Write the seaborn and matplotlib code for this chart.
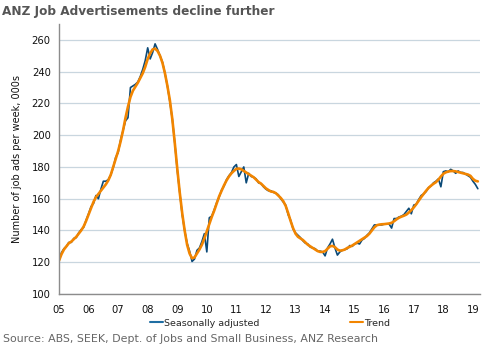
import numpy as np
import pandas as pd
import matplotlib
matplotlib.use("Agg")
import matplotlib.pyplot as plt
import seaborn as sns

# monthly, Jan 2005 - Mar 2019, '000s of job ads per week
seasonally_adjusted = [
    121, 126, 128.5, 130, 132.5, 132.5, 135, 135.5, 138.5, 140.5, 142, 146.5,  # 2005
    150.5, 155, 157, 162, 160, 166, 171, 171, 172, 175, 179.5, 186,  # 2006
    189, 197, 203, 209, 211, 230, 231, 232, 233.5, 237, 241.5, 247,  # 2007
    255, 248, 252, 257.5, 254, 250, 246, 239, 231, 221, 210, 195,  # 2008
    178, 164, 150, 140, 132, 127, 120.5, 122, 127.5, 129, 133, 138,  # 2009
    126.5, 148, 149, 153, 157.5, 161, 165.5, 168, 172, 174.5, 176.5, 180,  # 2010
    181.5, 174, 177, 180, 170, 176, 174, 173.5, 172.5, 170, 169.5, 167.5,  # 2011
    166, 165, 165, 164, 163.5, 162.5, 160, 158, 156, 150, 146.5, 141,  # 2012
    138.5, 137, 135.5, 133.5, 132, 131.5, 129.5, 129, 128.5, 127, 127, 126.5,  # 2013
    124, 129, 131.5, 134.5, 129, 124.5, 126.5, 127.5, 128, 128.5, 130.5, 130,  # 2014
    131.5, 132, 131.5, 134, 135, 137, 138.5, 141, 143.5, 143.5, 143.5, 143.5,  # 2015
    144, 144, 144, 141.5, 147.5, 147.5, 148.5, 149, 150, 152, 154, 150.5,  # 2016
    156, 156.5, 159.5, 162, 163, 164.5, 167, 168, 170, 171, 172.5, 167.5,  # 2017
    177, 177.5, 177, 178.5, 177.5, 176, 177.5, 176.5, 176.5, 175.5, 174.5, 173.5,  # 2018
    171, 169, 166.3,  # 2019
]
trend = [
    121, 125, 128, 130, 132, 133, 134.5, 136, 138, 140, 142.5, 146,  # 2005
    150, 154, 158, 161, 163, 165, 167, 169, 171.5, 175, 180, 185,  # 2006
    190, 196, 203, 211, 218, 224, 228, 230.5, 233, 236, 239, 243,  # 2007
    248, 251.5, 254, 254.5, 253, 250, 245.5, 239, 231, 222, 210, 195,  # 2008
    179, 164, 151, 140, 131, 125.5, 122.5, 123, 125.5, 128, 131, 135,  # 2009
    139.5, 144, 148.5, 152.5, 157, 161.5, 165, 168.5, 171.5, 174, 176, 177.5,  # 2010
    178.8, 179, 178.5, 177.5, 176.5, 175.5, 174.5, 173.5, 172, 170.5, 169.5, 168,  # 2011
    166.5, 165.5, 164.5, 164.3, 163.5, 162, 160.5, 158.5, 155.5, 151, 146, 141.5,  # 2012
    138, 136, 135, 134, 132.5, 131, 130, 129, 128, 127, 126.5, 126.5,  # 2013
    127, 128.5, 130, 130.3, 129.5, 128, 127.3, 127.5, 128, 129, 129.7, 130.5,  # 2014
    131.5, 132.5, 133.5, 134.5, 135.5, 136.5, 138, 140, 142, 143.3, 143.7, 143.9,  # 2015
    144, 144.2, 144.4, 144.8, 145.8, 147, 148, 148.7, 149.3, 150, 151.3, 152.8,  # 2016
    154.5, 156.5, 158.8, 161, 163, 165, 166.8, 168.2, 169.4, 170.4, 172, 174,  # 2017
    175.7, 176.6, 177.1, 177.4, 177.4, 177.2, 176.8, 176.4, 176, 175.6, 175.2, 174.4,  # 2018
    172.5, 171.3, 170.9,  # 2019
]
year_ticks = list(range(2005, 2020))
year_labels = ["%02d" % (y % 100) for y in year_ticks]
y_ticks = list(range(100, 261, 20))

dates = 2005 + np.arange(len(trend)) / 12.0
df = pd.DataFrame({
    "date": np.concatenate([dates, dates]),
    "value": seasonally_adjusted + trend,
    "series": ["Seasonally adjusted"] * len(dates) + ["Trend"] * len(dates),
})

sns.set_style("white")
plt.rcParams["font.family"] = ["DejaVu Sans"]

fig = plt.figure(figsize=(4.88, 3.56), dpi=100)
ax = fig.add_axes([59 / 488, 1 - 294 / 356, (480 - 59) / 488, (294 - 24) / 356])

sns.lineplot(data=df, x="date", y="value", hue="series",
             palette={"Seasonally adjusted": "#0b4a78", "Trend": "#f28500"},
             size="series", sizes={"Seasonally adjusted": 1.2, "Trend": 1.9},
             ax=ax, legend=False)

ax.set_xlim(2005, 2019.24)
ax.set_ylim(100, 270)
ax.set_xticks(year_ticks)
ax.set_xticklabels(year_labels)
ax.set_yticks(y_ticks)
ax.yaxis.grid(True, color="#c9d6df", lw=0.9)
ax.set_axisbelow(True)
for s in ["top", "right"]:
    ax.spines[s].set_visible(False)
for s in ["left", "bottom"]:
    ax.spines[s].set_color("#8c8c8c")
    ax.spines[s].set_linewidth(1)
ax.tick_params(axis="both", labelsize=7.2, colors="#8c8c8c", labelcolor="#111111",
               length=3, width=0.8, direction="out", pad=3)
ax.tick_params(axis="x", pad=5)
ax.set_xlabel("")
ax.set_ylabel("Number of job ads per week, 000s", fontsize=7, color="#111111", labelpad=7)

handles = [plt.Line2D([], [], color="#1f6ea3", lw=1.5),
           plt.Line2D([], [], color="#f28500", lw=1.5)]
fig.legend(handles, ["Seasonally adjusted", "Trend"], loc="center",
           bbox_to_anchor=(270 / 488, 1 - 323 / 356), ncol=2, frameon=False,
           fontsize=6.8, handlelength=1.4, handletextpad=0.1, columnspacing=9.6)

fig.text(2 / 488, 1 - 11 / 356, "ANZ Job Advertisements decline further",
         fontsize=8.7, fontweight="bold", color="#555555", va="center")
fig.text(3 / 488, 1 - 339 / 356,
         "Source: ABS, SEEK, Dept. of Jobs and Small Business, ANZ Research",
         fontsize=7.9, color="#666666", va="center")

fig.savefig("out.png", dpi=100)
